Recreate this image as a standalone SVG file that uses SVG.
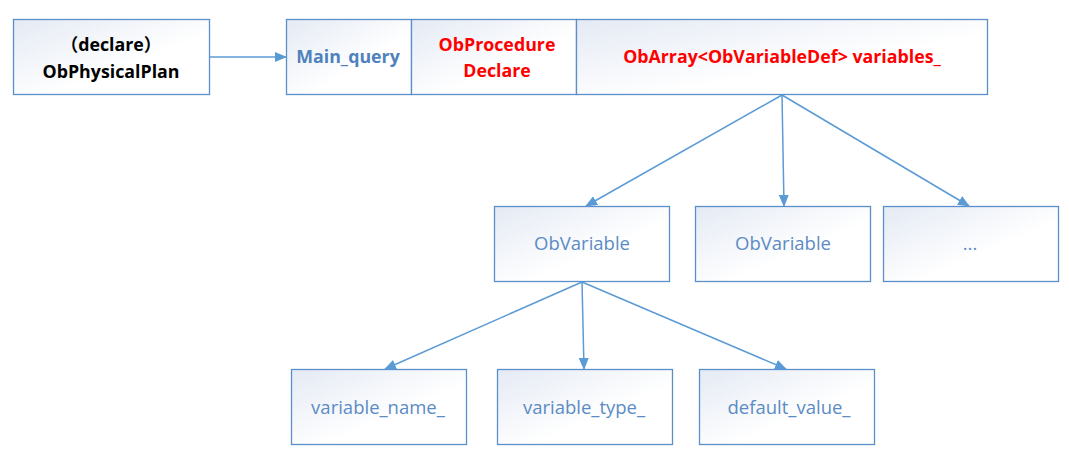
<svg xmlns="http://www.w3.org/2000/svg" width="1069" height="457" viewBox="0 0 1069 457">
<defs>
<linearGradient id="g" x1="0" y1="0" x2="1" y2="1">
<stop offset="0" stop-color="#E4EAF4"/>
<stop offset="0.6" stop-color="#FFFFFF"/>
</linearGradient>
<marker id="ah" markerWidth="12" markerHeight="10" refX="11" refY="5" orient="auto" markerUnits="userSpaceOnUse">
<path d="M0,0 L12,5 L0,10 Z" fill="#5B9BD5"/>
</marker>
<style>
.box{fill:url(#g);stroke:#5B8FC9;stroke-width:1.3}
.b{font-family:"Open Sans","Noto Sans CJK SC","Liberation Sans",sans-serif;font-weight:bold;font-size:17.8px;text-anchor:middle}
.n{font-family:"Open Sans","Liberation Sans",sans-serif;font-size:18.5px;fill:#5B8BC5;text-anchor:middle}
.red{fill:#FF0000}
.line{stroke:#5B9BD5;stroke-width:1.5;fill:none;marker-end:url(#ah)}
</style>
</defs>
<rect width="1069" height="457" fill="#FFFFFF"/>
<g id="plan">
<rect class="box" x="13.5" y="19.5" width="196" height="75"/>
<text class="b" x="111" y="51" fill="#000">（declare）</text>
<text class="b" x="111" y="78" fill="#000">ObPhysicalPlan</text>
</g>
<g id="main_query">
<rect class="box" x="286.5" y="19.5" width="125" height="75"/>
<text class="b" x="348" y="63" fill="#4F81BD">Main_query</text>
</g>
<g id="procedure">
<rect class="box" x="411.5" y="19.5" width="165" height="75"/>
<text class="b red" x="497" y="51">ObProcedure</text>
<text class="b red" x="497" y="77">Declare</text>
</g>
<g id="variables">
<rect class="box" x="576.5" y="19.5" width="411" height="75"/>
<text class="b red" x="782" y="63">ObArray&lt;ObVariableDef&gt; variables_</text>
</g>
<g id="var1">
<rect class="box" x="494.5" y="206.5" width="175" height="75"/>
<text class="n" x="582" y="250">ObVariable</text>
</g>
<g id="var2">
<rect class="box" x="695.5" y="206.5" width="175" height="75"/>
<text class="n" x="783" y="250">ObVariable</text>
</g>
<g id="more">
<rect class="box" x="883.5" y="206.5" width="175" height="75"/>
<text class="n" x="970" y="250">...</text>
</g>
<g id="name">
<rect class="box" x="291.5" y="369.5" width="175" height="75"/>
<text class="n" x="378" y="414">variable_name_</text>
</g>
<g id="type">
<rect class="box" x="497.5" y="369.5" width="175" height="75"/>
<text class="n" x="584" y="414">variable_type_</text>
</g>
<g id="default">
<rect class="box" x="699.5" y="369.5" width="175" height="75"/>
<text class="n" x="789" y="414">default_value_</text>
</g>
<g id="connectors">
<line class="line" x1="209.5" y1="57" x2="286" y2="57"/>
<line class="line" x1="782" y1="95" x2="586" y2="206"/>
<line class="line" x1="782" y1="95" x2="784" y2="206"/>
<line class="line" x1="782" y1="95" x2="969" y2="206"/>
<line class="line" x1="582" y1="282" x2="385" y2="369"/>
<line class="line" x1="582" y1="282" x2="584" y2="369"/>
<line class="line" x1="582" y1="282" x2="786" y2="369"/>
</g>
</svg>
